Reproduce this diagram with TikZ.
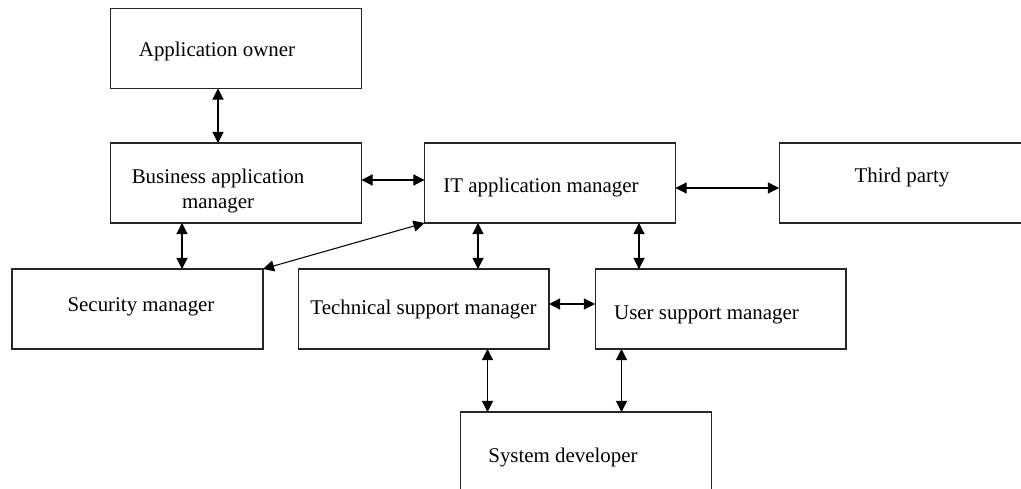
\documentclass[tikz,border=0pt]{standalone}
\usepackage{fontspec}
\setmainfont{Liberation Serif}
\usetikzlibrary{arrows.meta,calc}
\begin{document}
\begin{tikzpicture}[x=0.02cm,y=-0.02cm,
    font=\fontsize{11.9}{13.7}\selectfont,
    box/.style={draw=black!85,line width=0.6pt,minimum width=5.02cm,minimum height=1.6cm,inner sep=0pt,outer sep=0pt},
    txt/.style={inner sep=0pt,align=center},
    link/.style={{Triangle[length=6.3pt,width=6.3pt]}-{Triangle[length=6.3pt,width=6.3pt]},line width=0.6pt}]
  \useasboundingbox (0,0) rectangle (1021,489);
  \clip (0,0) rectangle (1021,489);
  \node[box] (owner) at (236,48.5) {};
  \node[box] (bam) at (236,183) {};
  \node[box] (itm) at (550,183) {};
  \node[box] (third) at (904.5,183) {};
  \node[box] (sm) at (137.5,309) {};
  \node[box] (tsm) at (423.5,309) {};
  \node[box] (usm) at (720.5,309) {};
  \node[box] (sd) at (586,452) {};
  \node[txt] (owner-t) at (217,51) {Application owner};
  \node[txt] (bam-t) at (218,191) {Business application\\manager};
  \node[txt] (itm-t) at (541,188) {IT application manager};
  \node[txt] (third-t) at (902,178) {Third party};
  \node[txt] (sm-t) at (141,307) {Security manager};
  \node[txt] (tsm-t) at (423.5,310) {Technical support manager};
  \node[txt] (usm-t) at (706.5,315) {User support manager};
  \node[txt] (sd-t) at (563,458) {System developer};
  \draw[link] ($(owner.south)+(-18,0)$) coordinate (a1) -- (a1 |- bam.north);
  \draw[link] ($(bam.east)+(0,-3)$) coordinate (a2) -- (a2 -| itm.west);
  \draw[link] ($(itm.east)+(0,5)$) coordinate (a3) -- (a3 -| third.west);
  \draw[link] ($(bam.south)+(-54,0)$) coordinate (a4) -- (a4 |- sm.north);
  \draw[link] (sm.north east) -- (itm.south west);
  \draw[link] ($(itm.south)+(-72,0)$) coordinate (a5) -- (a5 |- tsm.north);
  \draw[link] ($(itm.south)+(89,0)$) coordinate (a6) -- (a6 |- usm.north);
  \draw[link] ($(tsm.east)+(0,-5)$) coordinate (a7) -- (a7 -| usm.west);
  \draw[link] ($(tsm.south)+(64,0)$) coordinate (a8) -- (a8 |- sd.north);
  \draw[link] ($(usm.south)+(-99,0)$) coordinate (a9) -- (a9 |- sd.north);
\end{tikzpicture}
\end{document}
